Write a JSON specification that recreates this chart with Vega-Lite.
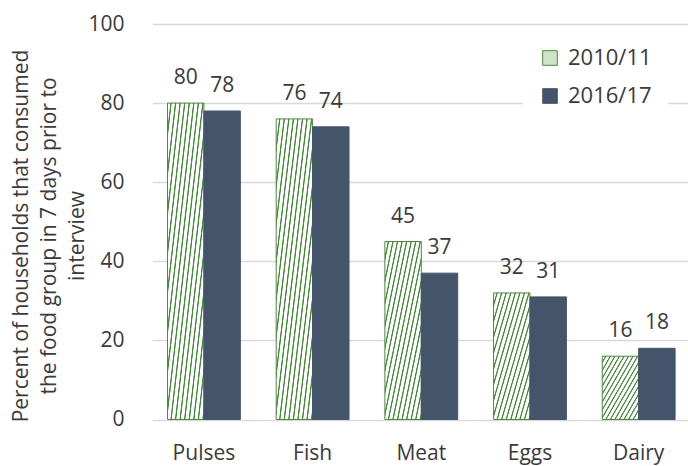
{
  "$schema": "https://vega.github.io/schema/vega-lite/v6.json",
  "width": 538,
  "height": 395.5,
  "autosize": {"type": "none"},
  "padding": {"left": 150, "top": 24, "right": 0, "bottom": 46.5},
  "background": "white",
  "config": {
    "font": "Open Sans",
    "view": {"stroke": null},
    "legend": {
      "title": null,
      "orient": "none",
      "legendX": 373,
      "legendY": 7,
      "symbolType": "square",
      "symbolSize": 213,
      "symbolStrokeWidth": 1,
      "labelFontSize": 22,
      "labelColor": "#3a3a3a",
      "labelOffset": 7,
      "rowPadding": 16,
      "padding": 16,
      "fillColor": "white"
    }
  },
  "data": {
    "values": [
      {"food": "Pulses", "year": "2010/11", "pct": 80},
      {"food": "Pulses", "year": "2016/17", "pct": 78},
      {"food": "Fish", "year": "2010/11", "pct": 76},
      {"food": "Fish", "year": "2016/17", "pct": 74},
      {"food": "Meat", "year": "2010/11", "pct": 45},
      {"food": "Meat", "year": "2016/17", "pct": 37},
      {"food": "Eggs", "year": "2010/11", "pct": 32},
      {"food": "Eggs", "year": "2016/17", "pct": 31},
      {"food": "Dairy", "year": "2010/11", "pct": 16},
      {"food": "Dairy", "year": "2016/17", "pct": 18}
    ]
  },
  "encoding": {
    "x": {
      "field": "food",
      "type": "nominal",
      "sort": ["Pulses", "Fish", "Meat", "Eggs", "Dairy"],
      "scale": {"paddingInner": 0.33, "paddingOuter": 0.14, "range": [2.3, 540.3]},
      "axis": {
        "title": null,
        "labelAngle": 0,
        "labelFontSize": 21,
        "labelColor": "#3a3a3a",
        "labelPadding": 23,
        "ticks": false,
        "domain": false
      }
    },
    "xOffset": {"field": "year", "type": "nominal", "sort": ["2010/11", "2016/17"]},
    "y": {
      "field": "pct",
      "type": "quantitative",
      "scale": {"domain": [0, 100], "nice": false},
      "axis": {
        "title": ["Percent of households that consumed", "the food group in 7 days prior to", "interview"],
        "values": [0, 20, 40, 60, 80, 100],
        "grid": true,
        "gridColor": "#d9d9d9",
        "gridWidth": 1.3,
        "domain": false,
        "ticks": false,
        "labelFontSize": 21,
        "labelColor": "#3a3a3a",
        "labelPadding": 26,
        "titleFontSize": 21,
        "titleFontWeight": "normal",
        "titleColor": "#3a3a3a",
        "titleAngle": -90,
        "titleAlign": "center",
        "titleBaseline": "alphabetic",
        "titleX": -123,
        "titleY": 211.5,
        "titleLineHeight": 28
      }
    }
  },
  "layer": [
    {
      "mark": {"type": "bar", "strokeWidth": 1},
      "encoding": {
        "color": {
          "field": "year",
          "type": "nominal",
          "scale": {"domain": ["2010/11", "2016/17"], "range": ["#d0e3c8", "#44546a"]},
          "condition": {
            "test": "datum.year === '2010/11'",
            "value": {
              "gradient": "linear", "x1": 0, "y1": 0, "x2": 1, "y2": 1,
              "stops": [
                {"offset": 0, "color": "#ffffff"}, {"offset": 0.0344, "color": "#ffffff"}, {"offset": 0.0438, "color": "#468a3a"}, {"offset": 0.0531, "color": "#468a3a"},
                {"offset": 0.0625, "color": "#ffffff"}, {"offset": 0.0969, "color": "#ffffff"}, {"offset": 0.1063, "color": "#468a3a"}, {"offset": 0.1156, "color": "#468a3a"},
                {"offset": 0.125, "color": "#ffffff"}, {"offset": 0.1594, "color": "#ffffff"}, {"offset": 0.1688, "color": "#468a3a"}, {"offset": 0.1781, "color": "#468a3a"},
                {"offset": 0.1875, "color": "#ffffff"}, {"offset": 0.2219, "color": "#ffffff"}, {"offset": 0.2313, "color": "#468a3a"}, {"offset": 0.2406, "color": "#468a3a"},
                {"offset": 0.25, "color": "#ffffff"}, {"offset": 0.2844, "color": "#ffffff"}, {"offset": 0.2938, "color": "#468a3a"}, {"offset": 0.3031, "color": "#468a3a"},
                {"offset": 0.3125, "color": "#ffffff"}, {"offset": 0.3469, "color": "#ffffff"}, {"offset": 0.3563, "color": "#468a3a"}, {"offset": 0.3656, "color": "#468a3a"},
                {"offset": 0.375, "color": "#ffffff"}, {"offset": 0.4094, "color": "#ffffff"}, {"offset": 0.4188, "color": "#468a3a"}, {"offset": 0.4281, "color": "#468a3a"},
                {"offset": 0.4375, "color": "#ffffff"}, {"offset": 0.4719, "color": "#ffffff"}, {"offset": 0.4813, "color": "#468a3a"}, {"offset": 0.4906, "color": "#468a3a"},
                {"offset": 0.5, "color": "#ffffff"}, {"offset": 0.5344, "color": "#ffffff"}, {"offset": 0.5438, "color": "#468a3a"}, {"offset": 0.5531, "color": "#468a3a"},
                {"offset": 0.5625, "color": "#ffffff"}, {"offset": 0.5969, "color": "#ffffff"}, {"offset": 0.6063, "color": "#468a3a"}, {"offset": 0.6156, "color": "#468a3a"},
                {"offset": 0.625, "color": "#ffffff"}, {"offset": 0.6594, "color": "#ffffff"}, {"offset": 0.6688, "color": "#468a3a"}, {"offset": 0.6781, "color": "#468a3a"},
                {"offset": 0.6875, "color": "#ffffff"}, {"offset": 0.7219, "color": "#ffffff"}, {"offset": 0.7313, "color": "#468a3a"}, {"offset": 0.7406, "color": "#468a3a"},
                {"offset": 0.75, "color": "#ffffff"}, {"offset": 0.7844, "color": "#ffffff"}, {"offset": 0.7938, "color": "#468a3a"}, {"offset": 0.8031, "color": "#468a3a"},
                {"offset": 0.8125, "color": "#ffffff"}, {"offset": 0.8469, "color": "#ffffff"}, {"offset": 0.8563, "color": "#468a3a"}, {"offset": 0.8656, "color": "#468a3a"},
                {"offset": 0.875, "color": "#ffffff"}, {"offset": 0.9094, "color": "#ffffff"}, {"offset": 0.9188, "color": "#468a3a"}, {"offset": 0.9281, "color": "#468a3a"},
                {"offset": 0.9375, "color": "#ffffff"}, {"offset": 0.9719, "color": "#ffffff"}, {"offset": 0.9813, "color": "#468a3a"}, {"offset": 0.9906, "color": "#468a3a"},
                {"offset": 1, "color": "#ffffff"}
              ]
            }
          }
        },
        "stroke": {
          "field": "year",
          "type": "nominal",
          "scale": {"domain": ["2010/11", "2016/17"], "range": ["#4a8a3c", "#44546a"]}
        }
      }
    },
    {
      "mark": {"type": "text", "baseline": "alphabetic", "dy": -19, "fontSize": 21, "color": "#3a3a3a"},
      "encoding": {
        "text": {"field": "pct", "type": "quantitative"}
      }
    }
  ]
}
